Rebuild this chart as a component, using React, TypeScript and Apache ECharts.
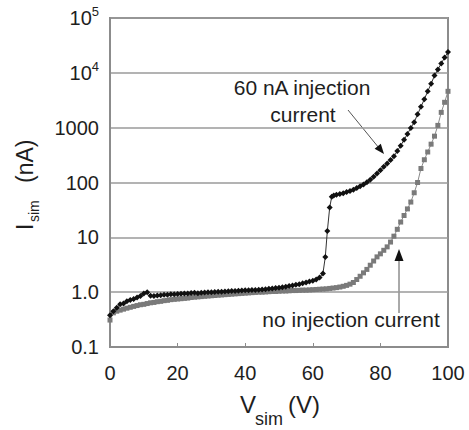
import React, { useEffect, useRef } from "react";
import * as echarts from "echarts";

// 60 nA injection current (black diamonds)
const injV = [
  0, 1, 2, 3, 4, 5, 6, 7, 8, 9, 10, 11, 12, 13, 14, 15, 16, 17, 18, 19, 20,
  21, 22, 23, 24, 25, 26, 27, 28, 29, 30, 31, 32, 33, 34, 35, 36, 37, 38, 39, 40,
  41, 42, 43, 44, 45, 46, 47, 48, 49, 50, 51, 52, 53, 54, 55, 56, 57, 58, 59, 60,
  61, 62, 63, 63.7, 64.3, 65, 65.6, 66.2, 67, 68, 69, 70, 71, 72, 73, 74, 75, 76,
  77, 78, 79, 80, 81, 82, 83, 84, 85, 86, 87, 88, 89, 90, 91, 92, 93, 94, 95, 96,
  97, 98, 99, 100,
];
const injI = [
  0.38, 0.45, 0.52, 0.6, 0.62, 0.68, 0.72, 0.75, 0.8, 0.85, 0.95, 1.0, 0.86, 0.85, 0.87,
  0.88, 0.9, 0.9, 0.92, 0.92, 0.93, 0.94, 0.95, 0.95, 0.97, 0.98, 0.96, 0.98, 0.99, 1.0,
  1.0, 1.01, 1.02, 1.02, 1.03, 1.04, 1.05, 1.05, 1.06, 1.07, 1.08, 1.08, 1.09, 1.1, 1.11,
  1.12, 1.13, 1.15, 1.17, 1.19, 1.21, 1.23, 1.26, 1.29, 1.32, 1.36, 1.4, 1.45, 1.5, 1.56,
  1.62, 1.7, 1.85, 2.2, 4.4, 13, 35, 55, 58, 60, 62, 64, 67, 70, 74, 79, 85, 92, 101,
  112, 127, 146, 168, 193, 222, 258, 300, 375, 470, 600, 770, 990, 1260, 1750, 2400,
  3300, 4600, 6300, 8900, 11500, 14800, 19000, 24000,
];

// no injection current (gray squares)
const noInjV = [
  0, 1, 2, 3, 4, 5, 6, 7, 8, 9, 10, 11, 12, 13, 14, 15, 16, 17, 18, 19, 20,
  21, 22, 23, 24, 25, 26, 27, 28, 29, 30, 31, 32, 33, 34, 35, 36, 37, 38, 39, 40,
  41, 42, 43, 44, 45, 46, 47, 48, 49, 50, 51, 52, 53, 54, 55, 56, 57, 58, 59, 60,
  61, 62, 63, 64, 65, 66, 67, 68, 69, 70, 71, 72, 73, 74, 75, 76, 77, 78, 79, 80,
  81, 82, 83, 84, 85, 86, 87, 88, 89, 90, 91, 92, 93, 94, 95, 96, 97, 98, 99, 100,
];
const noInjI = [
  0.31, 0.42, 0.45, 0.47, 0.49, 0.51, 0.53, 0.55, 0.57, 0.59, 0.6, 0.62, 0.64, 0.65, 0.67,
  0.68, 0.7, 0.71, 0.73, 0.74, 0.75, 0.76, 0.77, 0.78, 0.8, 0.81, 0.82, 0.83, 0.84, 0.85,
  0.86, 0.87, 0.88, 0.89, 0.9, 0.91, 0.92, 0.93, 0.94, 0.95, 0.96, 0.97, 0.98, 0.99, 1.0,
  1.0, 1.01, 1.02, 1.03, 1.03, 1.04, 1.05, 1.05, 1.06, 1.07, 1.07, 1.08, 1.09, 1.09, 1.1,
  1.11, 1.12, 1.13, 1.14, 1.15, 1.17, 1.19, 1.21, 1.24, 1.28, 1.33, 1.4, 1.5, 1.7, 1.95,
  2.25, 2.6, 3.1, 3.7, 4.4, 5.0, 5.8, 6.7, 8.2, 10.5, 14, 19, 25, 33, 44, 65, 100, 180,
  260, 360, 500, 700, 1100, 1900, 2900, 4600,
];

const yTickLabels: Record<number, string> = {
  [-1]: "0.1",
  0: "1.0",
  1: "10",
  2: "100",
  3: "1000",
  4: "{b|10}{sup|4}",
  5: "{b|10}{sup|5}",
};

const FONT = "'Liberation Sans', Arial, sans-serif";
const TXT = "#1e1e1e";

export default function App() {
  const ref = useRef<HTMLDivElement>(null);
  useEffect(() => {
    if (!ref.current) return;
    const chart = echarts.init(ref.current, undefined, { renderer: "svg" });
    const inj = injV.map((v, i) => [v, injI[i]]);
    const noInj = noInjV.map((v, i) => [v, noInjI[i]]);
    chart.setOption({
      animation: false,
      backgroundColor: "#ffffff",
      textStyle: { fontFamily: FONT },
      grid: {
        left: 110,
        right: 21,
        top: 18,
        bottom: 83,
        show: true,
        borderColor: "#8c8c8c",
        borderWidth: 2,
        backgroundColor: "transparent",
      },
      xAxis: {
        type: "value",
        min: 0,
        max: 100,
        interval: 20,
        axisLine: { show: true, lineStyle: { color: "#8c8c8c", width: 2 } },
        axisTick: { show: true, inside: true, length: 4, lineStyle: { color: "#8c8c8c" } },
        splitLine: { show: false },
        axisLabel: { fontSize: 20, color: TXT, margin: 16, fontFamily: FONT },
      },
      yAxis: {
        type: "log",
        logBase: 10,
        min: 0.1,
        max: 100000,
        axisLine: { show: true, lineStyle: { color: "#8c8c8c", width: 2 } },
        axisTick: { show: false },
        splitLine: { show: true, lineStyle: { color: "#9a9a9a", width: 1.5 } },
        axisLabel: {
          fontSize: 20,
          color: TXT,
          margin: 11,
          fontFamily: FONT,
          formatter: (v: number) => {
            const e = Math.round(Math.log10(v));
            return yTickLabels[e] ?? "";
          },
          rich: {
            b: { fontSize: 20, color: TXT, lineHeight: 26, fontFamily: FONT },
            sup: { fontSize: 13, color: TXT, lineHeight: 13, verticalAlign: "top", fontFamily: FONT },
          },
        },
      },
      series: [
        {
          name: "no injection current",
          type: "line",
          data: noInj,
          symbol: "rect",
          symbolSize: 5,
          itemStyle: { color: "#7a7a7a" },
          lineStyle: { color: "#8a8a8a", width: 1 },
          z: 2,
        },
        {
          name: "60 nA injection current",
          type: "line",
          data: inj,
          symbol: "diamond",
          symbolSize: 6,
          itemStyle: { color: "#111111" },
          lineStyle: { color: "#333333", width: 1 },
          z: 3,
        },
      ],
      graphic: [
        // y-axis title, rotated
        {
          type: "group",
          x: 33,
          y: 230,
          rotation: Math.PI / 2,
          children: [
            { type: "text", x: 0, y: -8, style: { text: "I", font: `23px ${FONT}`, fill: TXT, align: "left", verticalAlign: "middle" } },
            { type: "text", x: 8, y: 0.5, style: { text: "sim", font: `14px ${FONT}`, fill: TXT, align: "left", verticalAlign: "middle" } },
            { type: "text", x: 47, y: -8, style: { text: "(nA)", font: `23px ${FONT}`, fill: TXT, align: "left", verticalAlign: "middle" } },
          ],
        },
        // x-axis title
        { type: "text", x: 240, y: 404.6, style: { text: "V", font: `24px ${FONT}`, fill: TXT, align: "left", verticalAlign: "middle" } },
        { type: "text", x: 255, y: 418.7, style: { text: "sim", font: `18px ${FONT}`, fill: TXT, align: "left", verticalAlign: "middle" } },
        { type: "text", x: 288, y: 404.6, style: { text: "(V)", font: `24px ${FONT}`, fill: TXT, align: "left", verticalAlign: "middle" } },
        // annotation: 60 nA injection current
        { type: "text", x: 302, y: 87.6, style: { text: "60 nA injection", font: `21px ${FONT}`, fill: TXT, align: "center", verticalAlign: "middle" } },
        { type: "text", x: 303, y: 114.6, style: { text: "current", font: `21px ${FONT}`, fill: TXT, align: "center", verticalAlign: "middle" } },
        { type: "line", shape: { x1: 348, y1: 110, x2: 379, y2: 148 }, style: { stroke: "#555", lineWidth: 1 } },
        { type: "polygon", shape: { points: [[384, 154], [374.6, 148.7], [380.8, 143.7]] }, style: { fill: "#111" } },
        // annotation: no injection current
        { type: "text", x: 351, y: 319.6, style: { text: "no injection current", font: `21px ${FONT}`, fill: TXT, align: "center", verticalAlign: "middle" } },
        { type: "line", shape: { x1: 399, y1: 313, x2: 399, y2: 258 }, style: { stroke: "#555", lineWidth: 1 } },
        { type: "polygon", shape: { points: [[399, 249], [394.5, 261], [403.5, 261]] }, style: { fill: "#111" } },
      ],
    });
    return () => chart.dispose();
  }, []);
  return <div ref={ref} style={{ width: 469, height: 430, position: "absolute", left: 0, top: 0 }} />;
}
